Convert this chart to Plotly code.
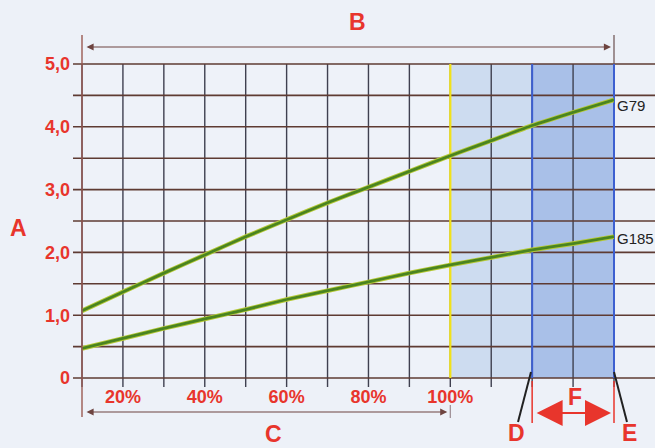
import plotly.graph_objects as go

# ---- data ----
load_pct = [10, 20, 30, 40, 50, 60, 70, 80, 90, 100, 110, 120, 130, 140]
g79 = [1.07, 1.37, 1.67, 1.96, 2.25, 2.52, 2.79, 3.04, 3.29, 3.54, 3.78, 4.02, 4.23, 4.43]
g185 = [0.47, 0.63, 0.79, 0.94, 1.09, 1.25, 1.39, 1.53, 1.67, 1.80, 1.92, 2.04, 2.14, 2.25]
x_ticks = [20, 40, 60, 80, 100]
x_ticktext = ["20%", "40%", "60%", "80%", "100%"]
y_ticks = [0, 1, 2, 3, 4, 5]
y_ticktext = ["0", "1,0", "2,0", "3,0", "4,0", "5,0"]
x_grid = list(range(10, 141, 10))
y_grid = [i * 0.5 for i in range(11)]

X0, X1, Y0, Y1 = 10, 140, 0, 5
W, H = 655, 448
L, R, T, B = 82, 614, 64, 378

RED = "#e8352c"
HGRID = "#5e3b33"
VGRID = "#3f4050"


def xp(v):  # data x -> paper
    return (v - X0) / (X1 - X0)


def yp(v):  # data y -> paper
    return (v - Y0) / (Y1 - Y0)


def ppx(p):  # pixel x -> paper
    return (p - L) / (R - L)


def ppy(p):  # pixel y -> paper
    return (B - p) / (B - T)


def xpix(v):  # data x -> pixel
    return L + xp(v) * (R - L)


shapes = []
# shaded zones
shapes.append(dict(type="rect", xref="paper", yref="paper", x0=xp(100), x1=xp(120), y0=0, y1=1,
                   fillcolor="#cddcf0", line_width=0, layer="below"))
shapes.append(dict(type="rect", xref="paper", yref="paper", x0=xp(120), x1=xp(140), y0=0, y1=1,
                   fillcolor="#a9c0e8", line_width=0, layer="below"))
# vertical grid
for v in x_grid:
    shapes.append(dict(type="line", xref="paper", yref="paper", x0=xp(v), x1=xp(v),
                       y0=ppy(387), y1=1, line=dict(color=VGRID, width=1.4), layer="below"))
# horizontal grid (extends beyond the plot)
for v in y_grid:
    shapes.append(dict(type="line", xref="paper", yref="paper", x0=ppx(73), x1=ppx(660),
                       y0=yp(v), y1=yp(v), line=dict(color=HGRID, width=1.6), layer="below"))
# yellow 100% line, blue 120/140% lines
shapes.append(dict(type="line", xref="paper", yref="paper", x0=xp(100), x1=xp(100), y0=0, y1=1,
                   line=dict(color="#f2e21a", width=2.2), layer="below"))
for v in (120, 140):
    shapes.append(dict(type="line", xref="paper", yref="paper", x0=xp(v), x1=xp(v), y0=0, y1=1,
                       line=dict(color="#3d5fd0", width=2), layer="below"))
# dimension marker lines
shapes.append(dict(type="line", xref="paper", yref="paper", x0=xp(10), x1=xp(10),
                   y0=ppy(417), y1=ppy(35), line=dict(color="#9a5a52", width=1.4)))
shapes.append(dict(type="line", xref="paper", yref="paper", x0=xp(140), x1=xp(140),
                   y0=ppy(64), y1=ppy(35), line=dict(color="#6a5050", width=1.2)))
shapes.append(dict(type="line", xref="paper", yref="paper", x0=xp(100), x1=xp(100),
                   y0=ppy(405), y1=ppy(418), line=dict(color="#9a8a90", width=1.2)))
for v in (120, 140):
    shapes.append(dict(type="line", xref="paper", yref="paper", x0=xp(v), x1=xp(v),
                       y0=ppy(381), y1=ppy(423), line=dict(color=RED, width=1.5)))
# D / E leader lines
shapes.append(dict(type="line", xref="paper", yref="paper", x0=ppx(531), x1=ppx(518),
                   y0=ppy(372), y1=ppy(422), line=dict(color="#222222", width=2)))
shapes.append(dict(type="line", xref="paper", yref="paper", x0=ppx(614), x1=ppx(627),
                   y0=ppy(372), y1=ppy(422), line=dict(color="#222222", width=2)))

fig = go.Figure()
for ys in (g79, g185):
    fig.add_trace(go.Scatter(x=load_pct, y=ys, mode="lines", line=dict(color="#b5c935", width=4.6,
                             shape="spline", smoothing=0.6), hoverinfo="skip", showlegend=False))
    fig.add_trace(go.Scatter(x=load_pct, y=ys, mode="lines", line=dict(color="#4a8420", width=2.8,
                             shape="spline", smoothing=0.6), showlegend=False))

ann = []
big = dict(family="Liberation Sans, Arial", size=23, color=RED)
for txt, x, y in (("A", 18, 228), ("B", 357, 22), ("C", 273, 434), ("D", 516, 433), ("E", 629, 433), ("F", 575, 397)):
    ann.append(dict(text="<b>%s</b>" % txt, xref="paper", yref="paper", x=ppx(x), y=ppy(y),
                    showarrow=False, font=big, xanchor="center", yanchor="middle"))
lab = dict(family="Liberation Sans Narrow, Liberation Sans, Arial", size=15, color="#222222")
ann.append(dict(text="G79", xref="paper", yref="paper", x=ppx(615), y=ppy(105), showarrow=False,
                font=lab, xanchor="left", yanchor="middle"))
ann.append(dict(text="G185", xref="paper", yref="paper", x=ppx(615), y=ppy(238), showarrow=False,
                font=lab, xanchor="left", yanchor="middle"))
# dimension arrows (head at right end, tail offset in pixels)
for x_start, x_end, ypix, col, size, width in (
        (10, 140, 47, "#6e4440", 1.3, 1.1),
        (10, 100, 412, "#6e4440", 1.3, 1.1),
        (120, 140, 413, RED, 2.6, 2)):
    ann.append(dict(text="", xref="paper", yref="paper", axref="pixel", ayref="pixel",
                    x=xp(x_end), y=ppy(ypix), ax=-(xpix(x_end) - xpix(x_start)), ay=0,
                    showarrow=True, arrowside="end+start", arrowhead=2, arrowsize=size,
                    arrowwidth=width, arrowcolor=col, standoff=3, startstandoff=3))

tickfont = dict(family="Liberation Sans, Arial", size=18, color=RED, weight="bold")
fig.update_layout(
    width=W, height=H,
    margin=dict(l=L, r=W - R, t=T, b=H - B),
    paper_bgcolor="#edf1f8", plot_bgcolor="#eef2f9",
    shapes=shapes, annotations=ann,
    xaxis=dict(range=[X0, X1], tickvals=x_ticks, ticktext=x_ticktext, ticks="", showgrid=False,
               zeroline=False, showline=False, tickfont=tickfont, ticklabelstandoff=6, fixedrange=True),
    yaxis=dict(range=[Y0, Y1], tickvals=y_ticks, ticktext=y_ticktext, ticks="", showgrid=False,
               zeroline=False, showline=False, tickfont=tickfont, ticklabelstandoff=11, fixedrange=True),
    showlegend=False,
)
fig.write_html("out.html", config={"displayModeBar": False},
               post_script="document.body.style.margin='0';document.body.style.background='#edf1f8';")
